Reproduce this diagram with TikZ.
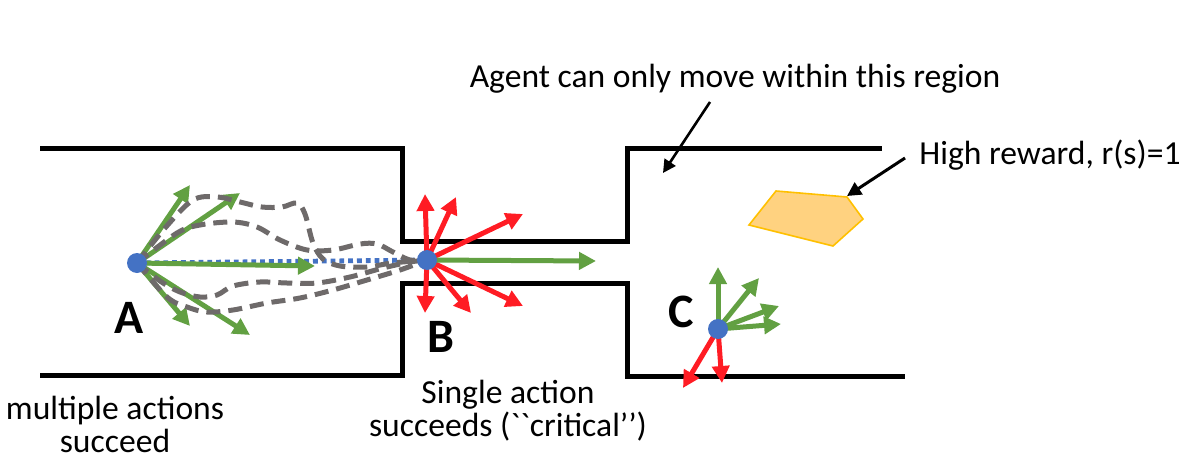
\documentclass[tikz,border=0pt]{standalone}
\usepackage{fontspec}
\setmainfont{Carlito}
\newfontfamily\rawfont[Ligatures=TeXOff]{Carlito}
\usetikzlibrary{arrows.meta}
\definecolor{wgreen}{RGB}{98,160,66}
\definecolor{wred}{RGB}{255,28,36}
\definecolor{wblue}{RGB}{68,114,196}
\definecolor{wgray}{RGB}{110,106,106}
\definecolor{pentfill}{RGB}{255,210,128}
\definecolor{pentedge}{RGB}{255,192,0}
\tikzset{
  wall/.style={line width=2.5pt},
  act/.style={line width=2.5pt,-{Triangle[length=8.5pt,width=8.5pt]}},
  gact/.style={act,draw=wgreen},
  ract/.style={act,draw=wred},
  dot/.style={circle,fill=wblue,inner sep=0pt,minimum size=10pt},
  traj/.style={line width=2.5pt,draw=wgray,dash pattern=on 7pt off 4pt},
  lbl/.style={font=\fontsize{16.8}{16.5}\selectfont,align=center,inner sep=0pt},
  big/.style={font=\fontsize{24}{26}\selectfont\bfseries,inner sep=0pt},
  note/.style={line width=1.5pt,-{Triangle[length=7pt,width=7pt]}}
}
\begin{document}
\begin{tikzpicture}[x=0.5pt,y=-0.5pt]
\useasboundingbox (0,0) rectangle (1189,471);
% walls
\draw[wall] (40,148) -- (402,148) -- (402,241) -- (627,241) -- (627,148) -- (882,148);
\draw[wall] (40,375) -- (402,375) -- (402,283) -- (627,283) -- (627,376) -- (905,376);
% points
\coordinate (Ap) at (137,263);
\coordinate (Bp) at (427,260);
\coordinate (Cp) at (718,329);
% blue dotted
\draw[wblue,line width=2.4pt,dash pattern=on 2.4pt off 2pt] (Ap) -- (Bp);
% green arrows from A
\coordinate (a1) at (190,185);
\coordinate (a2) at (240,193);
\coordinate (a3) at (315,266);
\coordinate (a4) at (190,326);
\coordinate (a5) at (250,335);
\foreach \t in {a1,a2,a3,a4,a5} \draw[gact] (Ap) -- (\t);
% gray trajectories
\draw[traj] plot[smooth,tension=0.55] coordinates {(137,263) (165,228) (193,200) (217,197) (240,202) (262,207) (282,207) (297,203) (305,214) (313,243) (323,259) (340,266) (367,267) (392,263) (427,260)};
\draw[traj] plot[smooth,tension=0.55] coordinates {(137,263) (177,233) (200,225) (233,222) (257,227) (280,240) (307,250) (333,250) (360,244) (377,244) (393,252) (410,260) (427,260)};
\draw[traj] plot[smooth,tension=0.55] coordinates {(137,263) (160,281) (180,292) (200,297) (217,295) (233,286) (260,282) (287,283) (317,283) (350,277) (383,268) (410,262) (427,260)};
\draw[traj] plot[smooth,tension=0.55] coordinates {(137,263) (167,297) (187,307) (207,312) (233,310) (267,303) (300,298) (333,290) (367,280) (400,270) (427,260)};
% red and green arrows from B
\coordinate (b1) at (425,194);
\coordinate (b2) at (456,197);
\coordinate (b3) at (523,214);
\coordinate (b4) at (425,313);
\coordinate (b5) at (471,313);
\coordinate (b6) at (523,306);
\coordinate (bg) at (596,261);
\foreach \t in {b1,b2,b3,b4,b5,b6} \draw[ract] (Bp) -- (\t);
\draw[gact] (Bp) -- (bg);
% arrows from C
\coordinate (c1) at (718,267);
\coordinate (c2) at (759,278);
\coordinate (c3) at (779,306);
\coordinate (c4) at (781,324);
\coordinate (c5) at (683,388);
\coordinate (c6) at (722,383);
\foreach \t in {c1,c2,c3,c4} \draw[gact] (Cp) -- (\t);
\foreach \t in {c5,c6} \draw[ract] (Cp) -- (\t);
% dots
\node[dot] (A) at (Ap) {};
\node[dot] (B) at (Bp) {};
\node[dot] (C) at (Cp) {};
% big letters
\node[big] (LA) at (129,318) {A};
\node[big] (LB) at (441,337) {B};
\node[big] (LC) at (681,312) {C};
% reward pentagon
\draw[draw=pentedge,fill=pentfill,line width=0.8pt] (776,191) -- (847,197) -- (863,219) -- (833,246) -- (749,225) -- cycle;
\coordinate (pent) at (847,196);
% labels
\node[lbl] (agent) at (735,79) {Agent can only move within this region};
\coordinate (agentstart) at (710,102);
\coordinate (agentend) at (663,173);
\draw[line width=1.3pt,-{Triangle[length=6.5pt,width=6.5pt]}] (agentstart) -- (agentend);
\node[lbl,anchor=west] (reward) at (919,155) {High reward, r(s)=1};
\draw[note] (905,158) -- (pent);
\node[lbl] (multi) at (115,424) {multiple actions\\succeed};
\node[lbl] (single) at (508,411) {Single action\\succeeds ({\rawfont``critical’’})};
\end{tikzpicture}
\end{document}
